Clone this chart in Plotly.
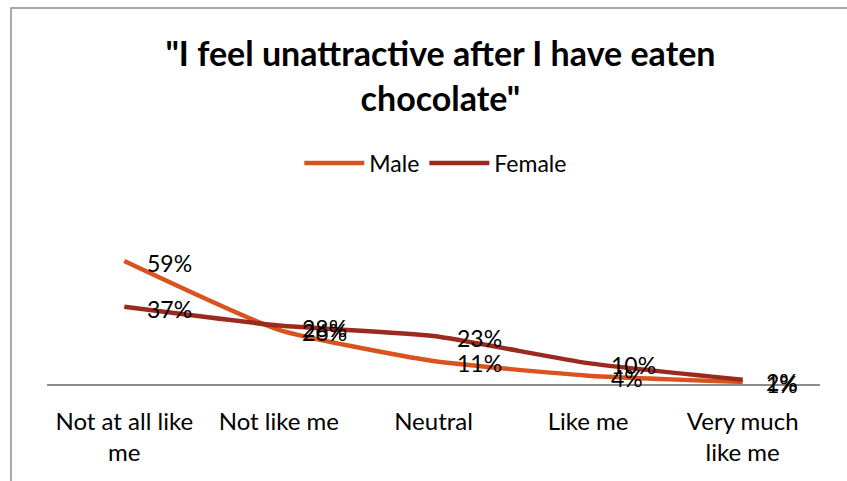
import plotly.graph_objects as go

# Survey responses: "I feel unattractive after I have eaten chocolate"
categories = ["Not at all like<br>me", "Not like me", "Neutral", "Like me", "Very much<br>like me"]
male = [0.59, 0.26, 0.11, 0.04, 0.01]
female = [0.37, 0.28, 0.23, 0.10, 0.02]

MALE_COLOR = "#D9531E"
FEMALE_COLOR = "#9B2A1E"
FONT = "Lato, Open Sans, sans-serif"

W, H = 847, 481
ML, MR, MT, MB = 47, 27, 238, 97

fig = go.Figure()
for name, vals, color in [("Male", male, MALE_COLOR), ("Female", female, FEMALE_COLOR)]:
    fig.add_trace(go.Scatter(
        x=categories, y=vals, name=name, mode="lines",
        line=dict(color=color, width=4.5, shape="spline", smoothing=0.5),
    ))
    # data labels to the right of each point
    for c, v in zip(categories, vals):
        fig.add_annotation(
            x=c, y=v, text=f"{round(v * 100)}%", showarrow=False,
            xanchor="left", yanchor="middle", xshift=21, yshift=-2,
            font=dict(family=FONT, size=23, color="#000000"),
        )

# outer chart frame
fig.add_shape(type="rect", xref="paper", yref="paper",
              x0=(11 - ML) / (W - ML - MR), x1=1.2,
              y0=-1.0, y1=(H - MB - 8) / (H - MT - MB),
              line=dict(color="#8C8C8C", width=1.5), fillcolor="rgba(0,0,0,0)")

fig.update_layout(
    width=W, height=H,
    margin=dict(l=ML, r=MR, t=MT, b=MB),
    paper_bgcolor="white", plot_bgcolor="white",
    title=dict(
        text="<b>\"I feel unattractive after I have eaten<br>chocolate\"</b>",
        x=0.52, xanchor="center", y=0.862, yanchor="middle",
        font=dict(family=FONT, size=34, color="#000000"),
    ),
    legend=dict(
        orientation="h", x=0.503, xanchor="center", y=1.514, yanchor="middle",
        font=dict(family=FONT, size=23, color="#000000"),
        bgcolor="rgba(0,0,0,0)", itemwidth=60,
    ),
    xaxis=dict(
        type="category", showgrid=False, showline=True, linecolor="#8C8C8C", linewidth=1.5,
        ticks="", tickfont=dict(family=FONT, size=24, color="#000000"),
        ticklabelstandoff=15, range=[-0.5, 4.5],
    ),
    yaxis=dict(range=[0, 0.7], showgrid=False, showline=False, zeroline=False,
               showticklabels=False, ticks=""),
    showlegend=True,
)

fig.write_html("out.html")
